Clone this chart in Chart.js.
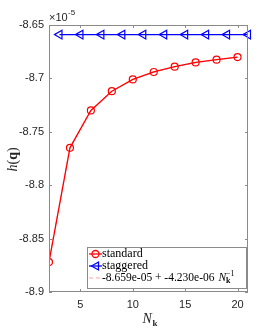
<!DOCTYPE html>
<html>
<head>
<meta charset="utf-8">
<script src="https://cdn.jsdelivr.net/npm/chart.js@4"></script>
<style>
  html, body { margin: 0; padding: 0; background: #fff; }
  #wrap { width: 274px; height: 329px; }
</style>
</head>
<body>
<div id="wrap"><canvas id="hChart" width="274" height="329"></canvas></div>
<script>
// values are h(q) in units of 1e-5
const nStandard = [2, 4, 6, 8, 10, 12, 14, 16, 18, 20];
const hStandard = [-8.872, -8.765, -8.730, -8.712, -8.701, -8.694, -8.689, -8.685, -8.6825, -8.680];
const nStaggered = [3, 5, 7, 9, 11, 13, 15, 17, 19, 21];
const hStaggered = [-8.659, -8.659, -8.659, -8.659, -8.659, -8.659, -8.659, -8.659, -8.659, -8.659];
const nFit = [2, 4, 6, 8, 10, 12, 14, 16, 18, 20];
const hFit = [-8.8705, -8.7648, -8.7295, -8.7119, -8.7013, -8.6943, -8.6892, -8.6854, -8.6825, -8.6802];
const xTicks = [5, 10, 15, 20];
const yTicks = [-8.9, -8.85, -8.8, -8.75, -8.7, -8.65];

const toPts = (xs, ys) => xs.map((x, i) => ({ x: x, y: ys[i] }));

const axisColor = '#8a8a8a';
const textColor = '#262626';
const serif = '"Liberation Serif", "DejaVu Serif", serif';

// MATLAB-like box, inward ticks, exponent, axis titles and legend
const matlabAxes = {
    id: 'matlabAxes',
    afterDraw(chart) {
        const ctx = chart.ctx;
        const a = chart.chartArea;
        const xs = chart.scales.x, ys = chart.scales.y;
        ctx.save();
        ctx.strokeStyle = axisColor;
        ctx.lineWidth = 1;
        ctx.strokeRect(a.left + 0.5, a.top + 0.5, a.right - a.left - 1, a.bottom - a.top - 1);
        ctx.beginPath();
        xTicks.forEach(t => {
            const px = Math.round(xs.getPixelForValue(t)) + 0.5;
            ctx.moveTo(px, a.bottom); ctx.lineTo(px, a.bottom - 3);
            ctx.moveTo(px, a.top); ctx.lineTo(px, a.top + 3);
        });
        yTicks.forEach(t => {
            const py = Math.round(ys.getPixelForValue(t)) + 0.5;
            ctx.moveTo(a.left, py); ctx.lineTo(a.left + 3, py);
            ctx.moveTo(a.right, py); ctx.lineTo(a.right - 3, py);
        });
        ctx.stroke();

        // exponent label
        ctx.fillStyle = textColor;
        ctx.textBaseline = 'alphabetic';
        ctx.textAlign = 'left';
        ctx.font = '11px "Liberation Sans", Arial, sans-serif';
        ctx.fillText('\u00d710', a.left, a.top - 4);
        ctx.font = '8px "Liberation Sans", Arial, sans-serif';
        ctx.fillText('-5', a.left + 19, a.top - 10);

        // x title N_k
        const cx = (a.left + a.right) / 2;
        ctx.font = 'italic 14px ' + serif;
        ctx.fillText('N', cx - 6, 323);
        ctx.font = 'bold 9px ' + serif;
        ctx.fillText('k', cx + 4, 326);

        // y title h(q)
        ctx.save();
        ctx.translate(17, (a.top + a.bottom) / 2);
        ctx.rotate(-Math.PI / 2);
        let x0 = -13;
        ctx.font = 'italic 14px ' + serif;
        ctx.fillText('h', x0, 0); x0 += ctx.measureText('h').width;
        ctx.font = '14px ' + serif;
        ctx.fillText('(', x0, 0); x0 += ctx.measureText('(').width;
        ctx.font = 'bold 14px ' + serif;
        ctx.fillText('q', x0, 0); x0 += ctx.measureText('q').width;
        ctx.font = '14px ' + serif;
        ctx.fillText(')', x0, 0);
        ctx.restore();

        // legend
        const lx = 87, ly = 247, lw = 159, lh = 41;
        ctx.fillStyle = '#fff';
        ctx.fillRect(lx, ly, lw, lh);
        ctx.strokeStyle = axisColor;
        ctx.strokeRect(lx + 0.5, ly + 0.5, lw, lh);
        const rows = [254, 266, 278];
        const s0 = lx + 2, s1 = lx + 15, tx = lx + 15;
        // standard
        ctx.strokeStyle = '#ff0000'; ctx.lineWidth = 1.3;
        ctx.beginPath(); ctx.moveTo(s0, rows[0]); ctx.lineTo(s1, rows[0]); ctx.stroke();
        ctx.beginPath(); ctx.arc((s0 + s1) / 2, rows[0], 3.5, 0, Math.PI * 2); ctx.stroke();
        // staggered
        ctx.strokeStyle = '#0000ff';
        ctx.beginPath(); ctx.moveTo(s0, rows[1]); ctx.lineTo(s1, rows[1]); ctx.stroke();
        const mx = (s0 + s1) / 2;
        ctx.beginPath(); ctx.moveTo(mx - 4, rows[1]); ctx.lineTo(mx + 3, rows[1] - 4); ctx.lineTo(mx + 3, rows[1] + 4); ctx.closePath(); ctx.stroke();
        // fit
        ctx.strokeStyle = 'rgba(255,0,0,0.45)'; ctx.lineWidth = 0.8;
        ctx.setLineDash([4, 3]);
        ctx.beginPath(); ctx.moveTo(s0, rows[2]); ctx.lineTo(s1, rows[2]); ctx.stroke();
        ctx.setLineDash([]);

        ctx.fillStyle = '#000';
        ctx.textBaseline = 'middle';
        ctx.font = '12px ' + serif;
        ctx.fillText('standard', tx, rows[0]);
        ctx.fillText('staggered', tx, rows[1]);
        let fx = tx;
        const fitText = '-8.659e-05 + -4.230e-06 ';
        ctx.font = '11.5px ' + serif;
        ctx.fillText(fitText, fx, rows[2]); fx += ctx.measureText(fitText).width + 1;
        ctx.font = 'italic 11.5px ' + serif;
        ctx.fillText('N', fx, rows[2]); fx += ctx.measureText('N').width;
        ctx.font = 'bold 8px ' + serif;
        ctx.fillText('k', fx, rows[2] + 3);
        ctx.font = '8px ' + serif;
        ctx.fillText('\u22121', fx, rows[2] - 4);
        ctx.restore();
    }
};

new Chart(document.getElementById('hChart'), {
    type: 'scatter',
    data: {
        datasets: [
            {
                label: 'fit',
                data: toPts(nFit, hFit),
                showLine: true,
                borderColor: 'rgba(255,0,0,0.45)',
                borderWidth: 0.8,
                borderDash: [4, 3],
                pointRadius: 0,
                order: 3
            },
            {
                label: 'standard',
                data: toPts(nStandard, hStandard),
                showLine: true,
                borderColor: '#ff0000',
                borderWidth: 1.3,
                pointStyle: 'circle',
                pointRadius: 3.5,
                pointBorderWidth: 1.2,
                pointBorderColor: '#ff0000',
                pointBackgroundColor: 'rgba(0,0,0,0)',
                order: 2
            },
            {
                label: 'staggered',
                data: toPts(nStaggered, hStaggered),
                showLine: true,
                clip: false,
                borderColor: '#0000ff',
                borderWidth: 1.3,
                pointStyle: 'triangle',
                pointRotation: -90,
                pointRadius: 5,
                pointBorderWidth: 1.2,
                pointBorderColor: '#0000ff',
                pointBackgroundColor: 'rgba(0,0,0,0)',
                order: 1
            }
        ]
    },
    options: {
        responsive: false,
        animation: false,
        layout: { padding: { top: 25, right: 26, left: 0, bottom: 0 } },
        plugins: {
            legend: { display: false },
            tooltip: { enabled: false }
        },
        scales: {
            x: {
                type: 'linear',
                min: 2,
                max: 21,
                afterBuildTicks: s => { s.ticks = xTicks.map(v => ({ value: v })); },
                afterFit: s => { s.height = 37; },
                grid: { display: false, drawTicks: false },
                border: { display: false },
                ticks: {
                    color: textColor,
                    padding: 6,
                    font: { family: '"Liberation Sans", Arial, sans-serif', size: 11 }
                }
            },
            y: {
                min: -8.9,
                max: -8.65,
                afterBuildTicks: s => { s.ticks = yTicks.map(v => ({ value: v })); },
                afterFit: s => { s.width = 49; },
                grid: { display: false, drawTicks: false },
                border: { display: false },
                ticks: {
                    color: textColor,
                    padding: 5,
                    callback: v => String(Number(v.toFixed(2))),
                    font: { family: '"Liberation Sans", Arial, sans-serif', size: 11 }
                }
            }
        }
    },
    plugins: [matlabAxes]
});
</script>
</body>
</html>
